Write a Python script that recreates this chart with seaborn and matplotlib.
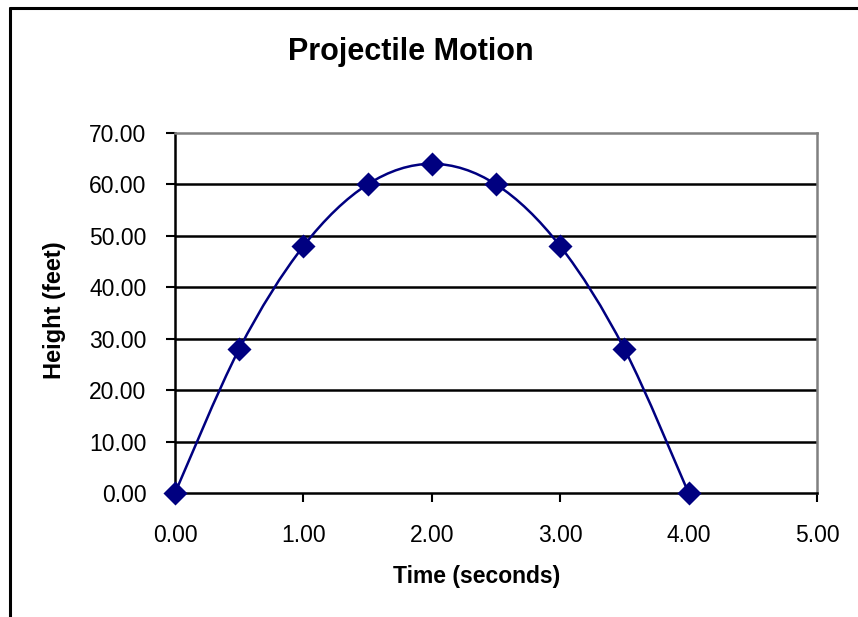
import matplotlib
matplotlib.use("Agg")
import matplotlib.pyplot as plt
from matplotlib.path import Path
from matplotlib.patches import PathPatch
from matplotlib.lines import Line2D
import seaborn as sns
import pandas as pd

# data
time_s = [0.0, 0.5, 1.0, 1.5, 2.0, 2.5, 3.0, 3.5, 4.0]
height_ft = [0.0, 28.0, 48.0, 60.0, 64.0, 60.0, 48.0, 28.0, 0.0]
x_ticks = [0, 1, 2, 3, 4, 5]
y_ticks = [0, 10, 20, 30, 40, 50, 60, 70]

df = pd.DataFrame({"Time": time_s, "Height": height_ft})

sns.set_style("white")
plt.rcParams["font.family"] = ["Liberation Sans", "DejaVu Sans"]
plt.rcParams["text.color"] = "black"

navy = "#000080"
grey = "#808080"

fig = plt.figure(figsize=(8.58, 6.17), dpi=100)
ax = fig.add_axes([175 / 858, 1 - 493 / 617, (817 - 175) / 858, (493 - 133) / 617])

# horizontal gridlines
for y in y_ticks[1:-1]:
    ax.axhline(y, color="black", lw=1.8, zorder=1)

# smoothed line like Excel (bezier through the points)
verts = [(time_s[0], height_ft[0])]
codes = [Path.MOVETO]
n = len(time_s)
for i in range(n - 1):
    p0 = (time_s[max(i - 1, 0)], height_ft[max(i - 1, 0)])
    p1 = (time_s[i], height_ft[i])
    p2 = (time_s[i + 1], height_ft[i + 1])
    p3 = (time_s[min(i + 2, n - 1)], height_ft[min(i + 2, n - 1)])
    c1 = (p1[0] + (p2[0] - p0[0]) / 6, p1[1] + (p2[1] - p0[1]) / 6)
    c2 = (p2[0] - (p3[0] - p1[0]) / 6, p2[1] - (p3[1] - p1[1]) / 6)
    verts += [c1, c2, p2]
    codes += [Path.CURVE4] * 3
ax.add_patch(PathPatch(Path(verts, codes), facecolor="none", edgecolor=navy, lw=1.8, zorder=3))

sns.scatterplot(data=df, x="Time", y="Height", marker="D", s=150, color=navy,
                edgecolor=navy, linewidth=0, ax=ax, zorder=4, clip_on=False)

ax.set_xlim(0, 5)
ax.set_ylim(0, 70)
ax.set_xticks(x_ticks)
ax.set_yticks(y_ticks)
ax.set_xticklabels([f"{v:.2f}" for v in x_ticks], fontsize=16.5)
ax.set_yticklabels([f"{v:.2f}" for v in y_ticks], fontsize=16.5)
ax.tick_params(axis="both", direction="out", length=6.5, width=1.5, color="black",
               labelcolor="black", left=True, bottom=True)
ax.tick_params(axis="y", pad=14)
ax.tick_params(axis="x", pad=16)
ax.set_xlabel("")
ax.set_ylabel("")

for side in ["left", "bottom"]:
    ax.spines[side].set_color("black")
    ax.spines[side].set_linewidth(1.8)
for side in ["top", "right"]:
    ax.spines[side].set_color(grey)
    ax.spines[side].set_linewidth(1.8)

fig.text(411 / 858, 1 - 52 / 617, "Projectile Motion", ha="center", va="center",
         fontsize=22, fontweight="bold", color="black")
fig.text(477 / 858, 1 - 577 / 617, "Time (seconds)", ha="center", va="center",
         fontsize=16.5, fontweight="bold", color="black")
fig.text(54 / 858, 1 - 310 / 617, "Height (feet)", ha="center", va="center",
         fontsize=17, fontweight="bold", rotation=90, color="black")

# outer chart frame (only left and top edges visible)
fig.add_artist(Line2D([10 / 858, 10 / 858], [0, 1 - 8 / 617], color="black", lw=2.2))
fig.add_artist(Line2D([10 / 858, 1], [1 - 8 / 617, 1 - 8 / 617], color="black", lw=2.2))

fig.savefig("out.png", dpi=100)
